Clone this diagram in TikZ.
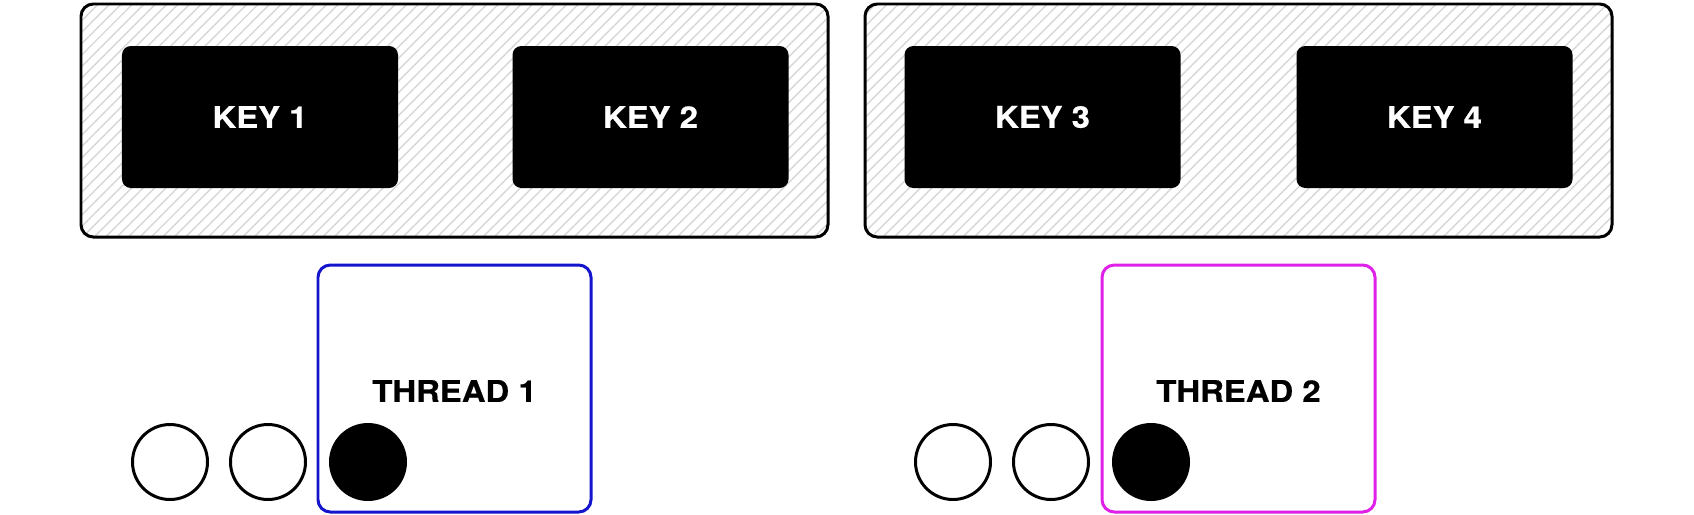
\documentclass[tikz,border=0pt]{standalone}
\usepackage{fontspec}
\setmainfont{TeX Gyre Heros}
\newfontfamily\heavyfont[FakeStretch=1.1, BoldFeatures={FakeBold=0.6, FakeStretch=1.1}]{TeX Gyre Heros}
\usetikzlibrary{patterns.meta}
\definecolor{threadblue}{RGB}{20,20,205}
\definecolor{threadpink}{RGB}{222,32,232}
\tikzset{
    group/.style={draw, line width=1.7pt, rounded corners=7pt, minimum width=14.94cm, minimum height=4.66cm,
        pattern={Lines[angle=45, distance=4.6pt, line width=0.8pt]}, pattern color=black!16},
    key/.style={fill=black, rounded corners=5pt, minimum width=5.52cm, minimum height=2.84cm,
        text=white, font=\heavyfont\bfseries\fontsize{17}{20}\selectfont},
    thread/.style={draw, line width=1.7pt, rounded corners=7pt, minimum width=5.46cm, minimum height=4.94cm},
    label/.style={font=\heavyfont\bfseries\fontsize{17}{20}\selectfont},
    job/.style={draw, circle, line width=1.7pt, minimum size=1.5cm, inner sep=0pt},
    done/.style={fill=black, circle, minimum size=1.56cm, inner sep=0pt}
}

\begin{document}
\begin{tikzpicture}[x=0.2mm, y=-0.2mm]
    \useasboundingbox (0,0) rectangle (1694,514);

    \node[group] (groupA) at (454.5,120.5) {};
    \node[group] (groupB) at (1238.5,120.5) {};

    \node[key] (key1) at (260,117) {KEY 1};
    \node[key] (key2) at (650.5,117) {KEY 2};
    \node[key] (key3) at (1042.5,117) {KEY 3};
    \node[key] (key4) at (1434.5,117) {KEY 4};

    \node[thread, draw=threadblue] (thread1) at (454.5,388.5) {};
    \node[thread, draw=threadpink] (thread2) at (1238.5,388.5) {};
    \node[label] (name1) at (454.5,391) {THREAD 1};
    \node[label] (name2) at (1238.5,391) {THREAD 2};

    \node[job] (wait1a) at (170,462) {};
    \node[job] (wait1b) at (268,462) {};
    \node[done] (run1) at (368,462) {};

    \node[job] (wait2a) at (953,462) {};
    \node[job] (wait2b) at (1051,462) {};
    \node[done] (run2) at (1151,462) {};
\end{tikzpicture}
\end{document}
